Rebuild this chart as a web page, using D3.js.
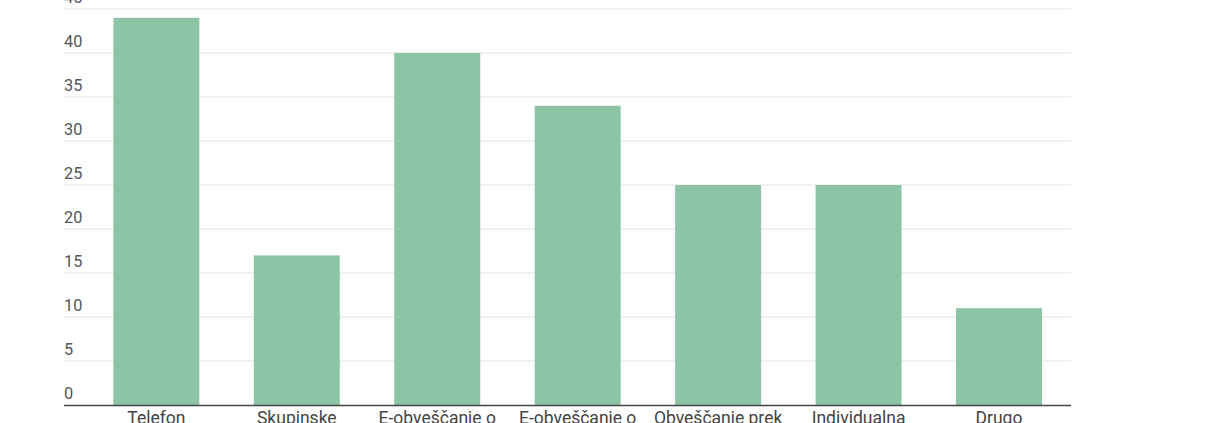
<!DOCTYPE html>
<html>
<head>
<meta charset="utf-8">
<script src="https://cdn.jsdelivr.net/npm/d3@7"></script>
<style>
  html, body { margin: 0; padding: 0; background: #fff; overflow: hidden; }
  svg { display: block; }
  text { font-family: Roboto, "Noto Sans", sans-serif; }
</style>
</head>
<body>
<svg id="chart" width="1210" height="423"></svg>
<script>
const categories = ["Telefon", "Skupinske", "E-obveščanje o", "E-obveščanje o", "Obveščanje prek", "Individualna", "Drugo"];
const values = [44, 17, 40, 34, 25, 25, 11];
const yTicks = [0, 5, 10, 15, 20, 25, 30, 35, 40, 45];

(function () {
  const svg = d3.select("#chart");
  const mLeft = 64, mRight = 1071, mTop = 9, mBottom = 405;
  const idx = categories.map((c, i) => i);

  const x = d3.scaleBand()
    .domain(idx)
    .range([mLeft, mRight])
    .paddingInner(0.3877)
    .paddingOuter(0.279)
    .align(0.63);

  const y = d3.scaleLinear().domain([0, 45]).range([mBottom, mTop]);

  // gridlines
  svg.append("g").selectAll("line").data(yTicks.filter(d => d !== 0)).join("line")
    .attr("x1", mLeft).attr("x2", mRight)
    .attr("y1", d => y(d)).attr("y2", d => y(d))
    .attr("stroke", "#e2e2e2").attr("stroke-width", 1);

  // tick labels
  svg.append("g").selectAll("text").data(yTicks).join("text")
    .attr("x", mLeft)
    .attr("y", d => y(d) - 6.5)
    .attr("fill", "#555")
    .attr("font-size", 16.3)
    .text(d => d);

  // bars
  svg.append("g").selectAll("rect").data(values).join("rect")
    .attr("x", (d, i) => x(i))
    .attr("width", x.bandwidth())
    .attr("y", d => y(d))
    .attr("height", d => y(0) - y(d))
    .attr("fill", "#8dc4a6");

  // baseline
  svg.append("line")
    .attr("x1", mLeft).attr("x2", mRight)
    .attr("y1", mBottom + 0.5).attr("y2", mBottom + 0.5)
    .attr("stroke", "#444").attr("stroke-width", 1.5);

  // category labels
  svg.append("g").selectAll("text").data(categories).join("text")
    .attr("x", (d, i) => x(i) + x.bandwidth() / 2)
    .attr("y", 424)
    .attr("text-anchor", "middle")
    .attr("fill", "#444")
    .attr("font-size", 17.5)
    .text(d => d);
})();
</script>
</body>
</html>
